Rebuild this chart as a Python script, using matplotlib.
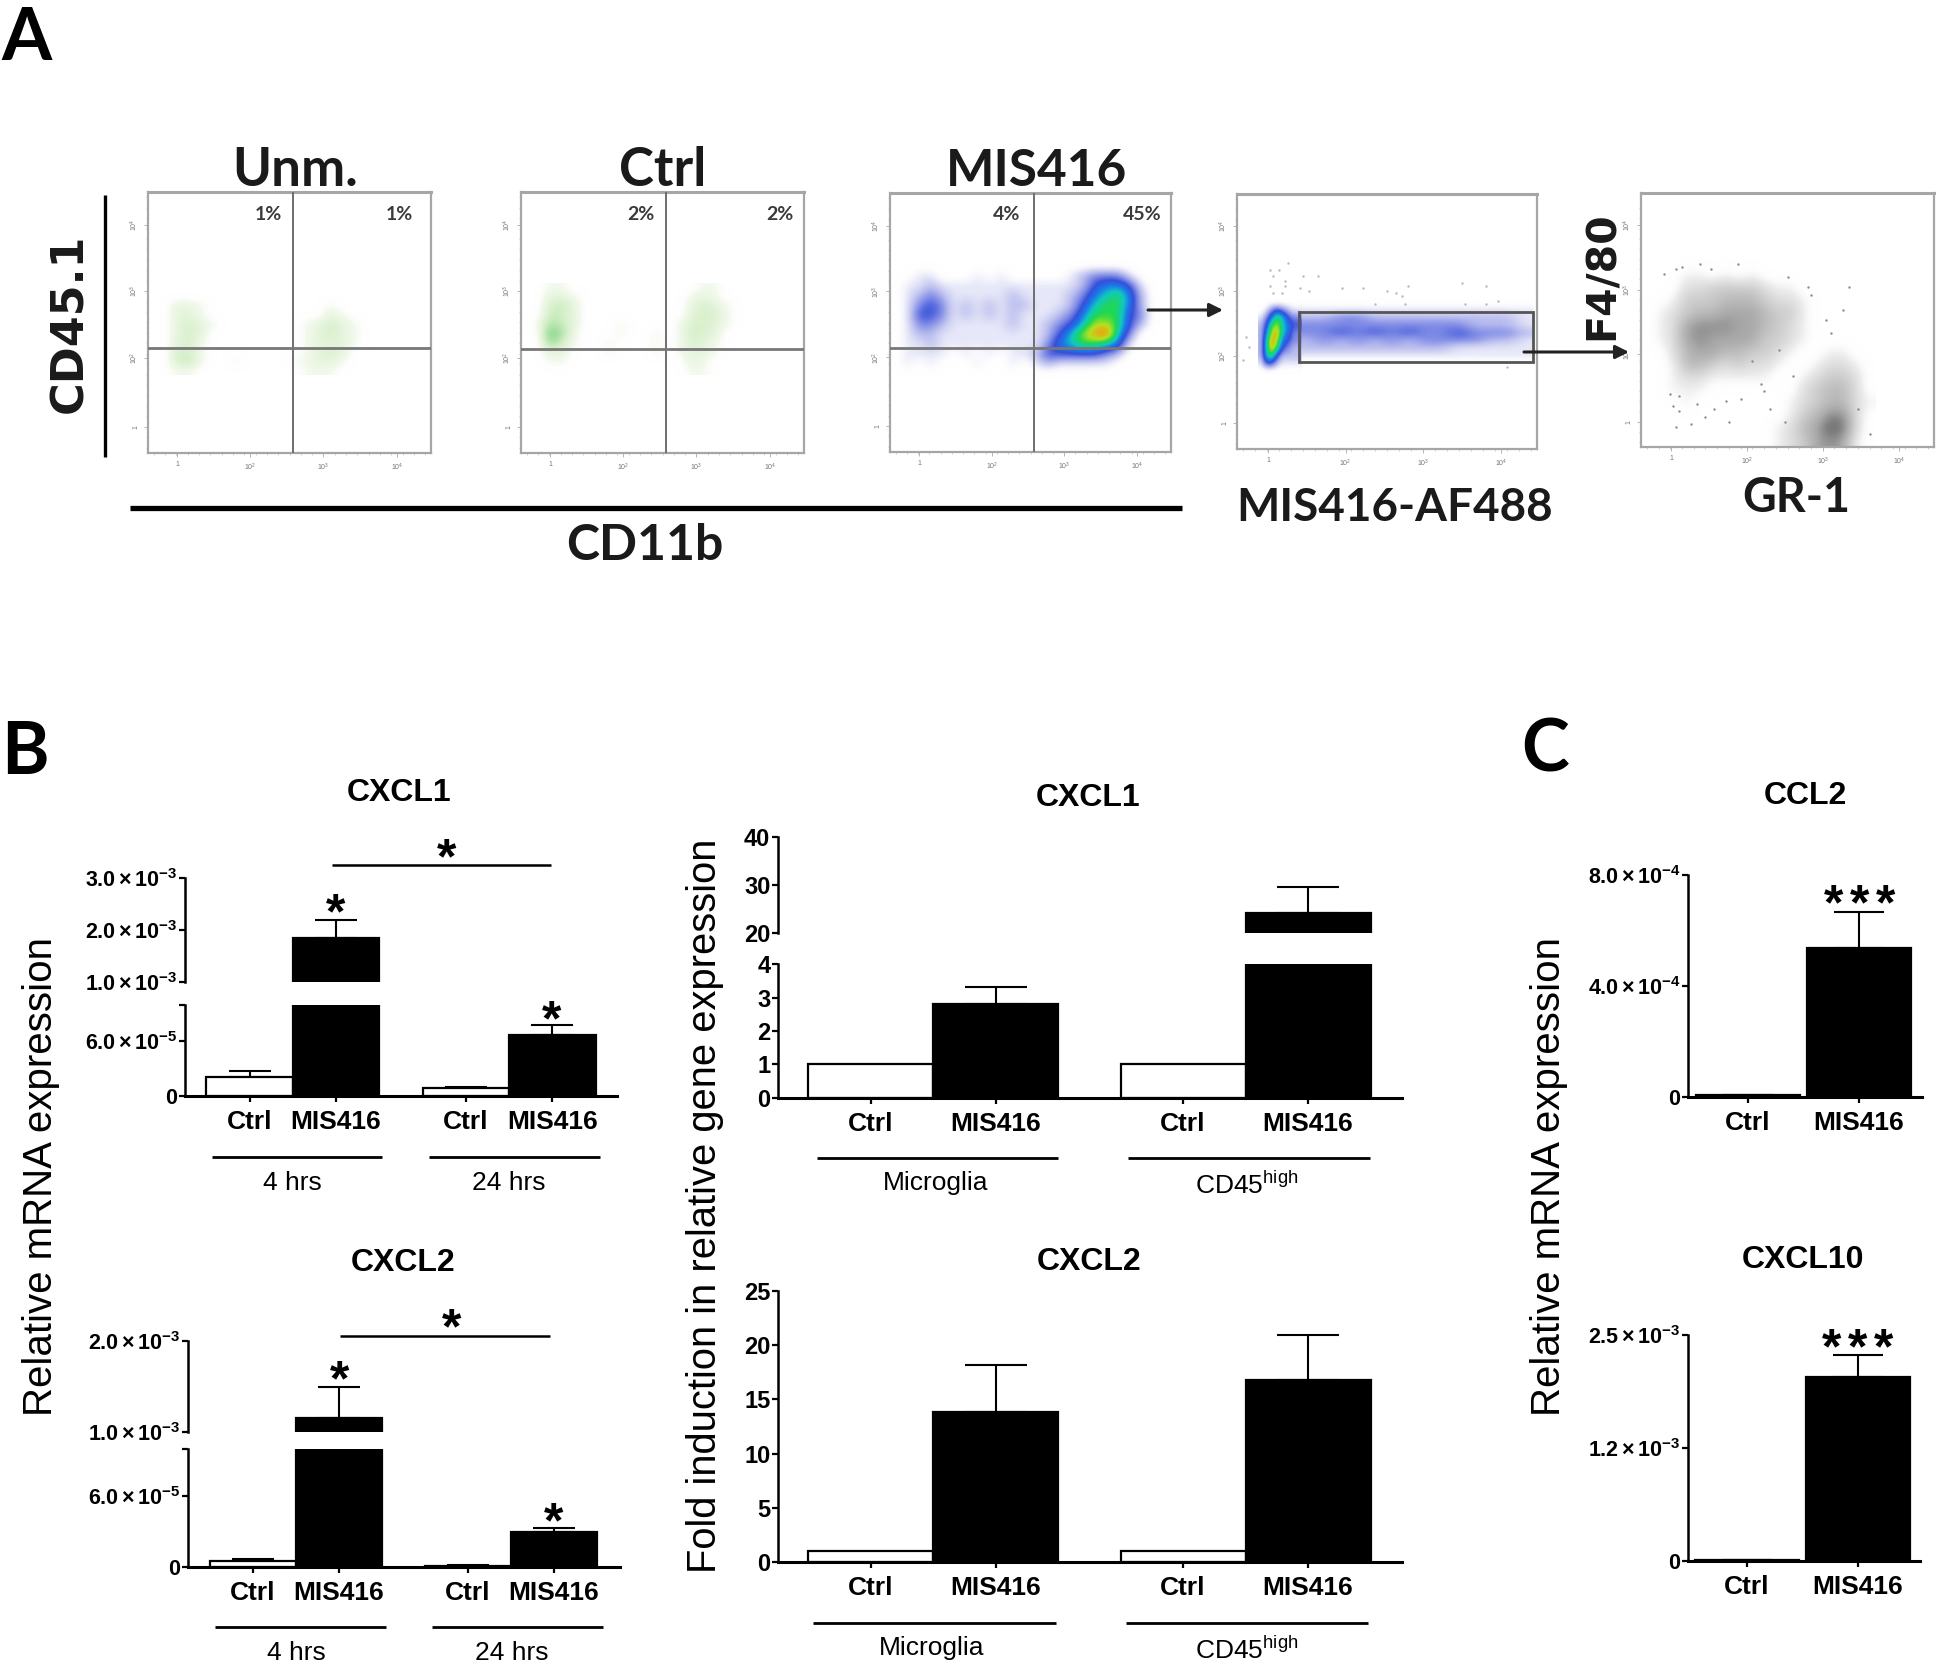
import numpy as np
import matplotlib
matplotlib.use("Agg")
import matplotlib.pyplot as plt
from matplotlib.colors import LinearSegmentedColormap
from matplotlib.lines import Line2D
from matplotlib.patches import FancyArrowPatch, Rectangle
from matplotlib.transforms import Affine2D

plt.rcParams.update({
    'font.family': ['Liberation Sans', 'DejaVu Sans'],
    'mathtext.fontset': 'custom',
    'mathtext.rm': 'Liberation Sans',
    'mathtext.bf': 'Liberation Sans:bold',
    'mathtext.it': 'Liberation Sans:italic',
})

W, H = 1946, 1667

# ---------- bar data ----------
groups = ['Ctrl', 'MIS416', 'Ctrl', 'MIS416']
groups2 = ['Ctrl', 'MIS416']
pos4 = [0, 1, 2.5, 3.5]
pos2 = [0, 1]

cxcl1_rel_vals = [2.07e-5, 1.85e-3, 0.85e-5, 6.74e-5]
cxcl1_rel_errs = [2.8e-5, 2.19e-3, 1.0e-5, 7.77e-5]
cxcl2_rel_vals = [0.51e-5, 1.16e-3, 0.1e-5, 2.94e-5]
cxcl2_rel_errs = [0.68e-5, 1.5e-3, 0.12e-5, 3.28e-5]
cxcl1_fold_vals = [1, 2.8, 1, 24.2]
cxcl1_fold_errs = [None, 3.32, None, 29.5]
cxcl2_fold_vals = [1, 13.8, 1, 16.8]
cxcl2_fold_errs = [None, 18.2, None, 20.9]
ccl2_vals = [0.7e-5, 5.37e-4]
ccl2_errs = [0.9e-5, 6.67e-4]
cxcl10_vals = [1e-5, 2.04e-3]
cxcl10_errs = [1.2e-5, 2.28e-3]

# ---------- flow density grids (read by eye, digit = local density, a = peak) ----------
unm_grid = [
    "000000000000000000000000",
    "000000000000000000000000",
    "002210000000000100000000",
    "002210000000000210000000",
    "002321000000012321000000",
    "002320000000012321000000",
    "002310000000012221000000",
    "003310000000012320000000",
    "003410010000112210000000",
    "001100000000011100000000",
]
ctrl_grid = [
    "001100000000000110000000",
    "002210000000001210000000",
    "003420000000002321000000",
    "004320000000002331000000",
    "015420001000013321000000",
    "008510001001013320000000",
    "006310010001013210000000",
    "002200010001012210000000",
    "001100000000002100000000",
    "000000000000001100000000",
]
mis_grid = [
    "000000000000000000000000",
    "001100010100000123331000",
    "011211111111111124554100",
    "012321111121111235675200",
    "013431212122111246775200",
    "014431212121112357774300",
    "013321111121123468874200",
    "012211111111124689a63000",
    "011211111111135677651000",
    "011110101011244444320000",
    "010100010010121111100000",
    "000000000000000000000000",
]
af488_peak_grid = [
    "00000000",
    "01343211",
    "13576433",
    "24786544",
    "25896533",
    "26985433",
    "26974322",
    "26742222",
    "14421111",
    "00000000",
]
af488_gate_grid = [
    "00000000000000",
    "11111111111111",
    "22332222222221",
    "33333333332221",
    "33434343343332",
    "23232323333221",
    "22222222211111",
    "11111111111111",
    "00000000000000",
]
af488_sparse_x = [11, 14, 17, 22, 27, 12, 16, 11, 16, 21, 24, 12, 15, 35, 42, 50, 53, 55, 57, 75, 83, 87, 76, 83, 46, 56, 2, 90, 3, 4]
af488_sparse_y = [30, 30, 27, 32, 32, 32, 34, 36, 36, 37, 38, 39, 39, 37, 37, 38, 39, 40, 36, 35, 36, 42, 43, 43, 43, 43, 65, 68, 56, 60]
gr1_grid = [
    "000000000000000000",
    "000110101000000000",
    "000223333211000000",
    "001333444322100000",
    "012344555433100000",
    "012566655432100000",
    "012565555332100000",
    "002455443321001100",
    "001443232210012210",
    "001221111100123320",
    "001110000000234420",
    "000100000001234421",
    "000000000001346620",
    "000000000012458720",
    "000000000012356510",
]
gr1_sparse_x = [8, 12, 14, 20, 24, 33, 50, 57, 58, 71, 69, 63, 65, 10, 13, 17, 22, 30, 12, 11, 13, 19, 25, 29, 34, 42, 44, 49, 74, 78, 52, 41, 38, 47]
gr1_sparse_y = [32, 30, 29, 28, 30, 28, 33, 37, 40, 37, 46, 50, 55, 79, 86, 91, 88, 90, 92, 84, 80, 83, 85, 82, 81, 78, 85, 90, 85, 95, 72, 75, 66, 62]

fig = plt.figure(figsize=(W / 100, H / 100), dpi=100, facecolor='white')
T = Affine2D().scale(1 / W, -1 / H).translate(0, 1) + fig.transFigure


def ftext(x, y, s, **kw):
    kw.setdefault('ha', 'center')
    kw.setdefault('va', 'center')
    return fig.text(x, y, s, transform=T, **kw)


def fline(xs, ys, lw=2.0, color='k'):
    fig.add_artist(Line2D(xs, ys, transform=T, color=color, lw=lw, solid_capstyle='butt'))


def star(x, y, size=36):
    fig.text(x, y + 0.46 * size * 100 / 72, '*', transform=T, ha='center', va='baseline',
             fontsize=size, fontweight='bold')


def px_axes(xl, xr, yt, yb):
    ax = fig.add_axes([xl / W, 1 - yb / H, (xr - xl) / W, (yb - yt) / H])
    ax.patch.set_alpha(0)
    return ax


def sci(m, e):
    return rf"$\mathbf{{{m}\times10^{{{e}}}}}$"


# ---------- flow panels ----------
def parse(rows):
    return np.array([[int(c, 16) for c in r] for r in rows], float)


cm_green = LinearSegmentedColormap.from_list('g', [(0, (1, 1, 1, 0)), (.1, '#f2f9ec'), (.3, '#d8f0cc'),
                                                   (.6, '#9adc98'), (1, '#28b048')])
cm_flow = LinearSegmentedColormap.from_list('f', [
    (0, (1, 1, 1, 0)), (.1, '#e6e7f8'), (.2, '#b8bcee'), (.3, '#7e8ae6'), (.4, '#3650da'),
    (.5, '#1c78e8'), (.6, '#10c8c0'), (.7, '#20d850'), (.8, '#b4e020'), (.9, '#f0a010'), (1, '#e03010')])
cm_gray = LinearSegmentedColormap.from_list('k', [(0, (1, 1, 1, 0)), (.12, '#ececec'), (.5, '#a8a8a8'),
                                                  (1, '#2a2a2a')])


def flow_axes(xl, xr, yt, yb, vline=None, hline=None):
    ax = px_axes(xl, xr, yt, yb)
    ax.set_xlim(0, 100)
    ax.set_ylim(100, 0)
    ax.patch.set_alpha(1)
    for s in ax.spines.values():
        s.set_color('#a6a6a6')
        s.set_linewidth(1.6)
    ax.spines['top'].set_linewidth(2.2)
    ax.set_xticks([10.4, 36.2, 62, 88], ['1', '$10^{2}$', '$10^{3}$', '$10^{4}$'])
    ax.set_yticks([12.6, 38, 63.5, 90], ['$10^{4}$', '$10^{3}$', '$10^{2}$', '1'], rotation=90, va='center')
    ax.set_xticks(np.arange(2, 100, 4), minor=True)
    ax.set_yticks(np.arange(2, 100, 4), minor=True)
    ax.tick_params(which='major', length=3, width=.6, color='#aaaaaa', labelsize=5, labelcolor='#777777', pad=3)
    ax.tick_params(which='minor', length=1.5, width=.5, color='#bbbbbb')
    if vline is not None:
        ax.axvline(vline, ymax=1, color='#6e6e6e', lw=1.4, zorder=5)
    if hline is not None:
        ax.axhline(hline, color='#777777', lw=2.0, zorder=5)
    return ax


def density(ax, grid, cmap, extent):
    ax.imshow(parse(grid), cmap=cmap, vmin=0, vmax=10, extent=extent, aspect='auto',
              interpolation='bicubic', interpolation_stage='data', origin='upper', zorder=2)
    ax.set_xlim(0, 100)
    ax.set_ylim(100, 0)


ax = flow_axes(148, 431, 192, 453, vline=51.2, hline=59.8)
density(ax, unm_grid, cm_green, (0, 100, 70, 35))
ax = flow_axes(521, 804, 192, 453, vline=51.2, hline=60.2)
density(ax, ctrl_grid, cm_green, (0, 100, 70, 35))
ax = flow_axes(890, 1171, 193, 452, vline=51.2, hline=60)
density(ax, mis_grid, cm_flow, (0, 100, 71.8, 26.2))

ax = flow_axes(1237, 1537, 194, 449)
density(ax, af488_gate_grid, cm_flow, (21, 99, 68, 41))
density(ax, af488_peak_grid, cm_flow, (7, 21.5, 71, 41))
ax.scatter(af488_sparse_x, af488_sparse_y, s=3, color='#b8b8c8', linewidths=0, zorder=3)
ax.add_patch(Rectangle((20.8, 46.2), 78, 19.6, fill=False, ec='#555555', lw=2.0, zorder=6))

ax = flow_axes(1641, 1934, 193, 447)
density(ax, gr1_grid, cm_gray, (0, 80, 100, 25))
ax.scatter(gr1_sparse_x, gr1_sparse_y, s=3, color='#8c8c8c', linewidths=0, zorder=3)

# flow labels
big = dict(family='Lato', fontweight='bold', color='#1a1a1a')
ftext(295, 171, 'Unm.', fontsize=38, **big)
ftext(663, 171, 'Ctrl', fontsize=38, **big)
ftext(1037, 171, 'MIS416', fontsize=37, **big)
ftext(645, 545, 'CD11b', fontsize=36, **big)
ftext(1395, 508, 'MIS416-AF488', fontsize=33, **big)
ftext(1796, 498, 'GR-1', fontsize=33.5, **big)
ftext(70, 323, 'CD45.1', fontsize=32, rotation=90, family='DejaVu Sans', fontweight='bold', color='#1a1a1a')
ftext(1603, 276, 'F4/80', fontsize=29.5, rotation=90, family='DejaVu Sans', fontweight='bold', color='#1a1a1a')
fline([105, 105], [195, 457], lw=2.4)
fline([130, 1182], [508, 508], lw=3.8)
pct = dict(family='Lato', fontweight='bold', fontsize=14, color='#3a3a3a')
for x, s in [(268, '1%'), (399, '1%'), (641, '2%'), (780, '2%'), (1007, '4%'), (1142, '45%')]:
    ftext(x, 215, s, **pct)
for a, b in [((1148, 310), (1223, 310)), ((1524, 352), (1629, 352))]:
    fig.add_artist(FancyArrowPatch(a, b, transform=T, arrowstyle='-|>', mutation_scale=20, lw=2.2,
                                   color='#222222', shrinkA=0, shrinkB=0, zorder=10))
for x, y, s in [(26, 39, 'A'), (25, 754, 'B'), (1545, 751, 'C')]:
    ftext(x, y, s, family='Lato', fontweight='bold', fontsize=52, color='black')


# ---------- bar panels ----------
def style(ax, xl, xr, c0, unit, pos, labels):
    ax.set_xlim((xl - c0) / unit, (xr - c0) / unit)
    for s in ('top', 'right'):
        ax.spines[s].set_visible(False)
    ax.spines['left'].set_linewidth(1.8)
    ax.spines['bottom'].set_linewidth(2.2)
    ax.tick_params(axis='y', length=4.5, width=1.6)
    ax.tick_params(axis='x', length=4, width=1.6, pad=6)
    ax.set_xticks(pos, labels, fontsize=19, fontweight='bold')


def bars(ax, pos, vals, errs, width, cap, lo=None, hi=None):
    for i, (x, v, e) in enumerate(zip(pos, vals, errs)):
        col = 'white' if i % 2 == 0 else 'black'
        if lo is None:
            ax.bar(x, v, width=width, color=col, edgecolor='k', linewidth=1.6, zorder=2)
        elif v > lo:
            ax.bar(x, v - lo, bottom=lo, width=width, color=col, edgecolor='k', linewidth=1.6, zorder=2)
        if e is not None and (lo is None or e > lo) and (hi is None or e < hi):
            ax.errorbar(x, v, yerr=[[0], [e - v]], color='k', elinewidth=1.5, capsize=cap, capthick=1.5, zorder=1)


def broken(xl, xr, c0, unit, y0, ybrk, yup0, yup1, lim_lo, lim_up, vals, errs, lo_ticks, lo_labels,
           up_ticks, up_labels, cap, tick_fs):
    low = px_axes(xl, xr, ybrk, y0)
    up = px_axes(xl, xr, yup1, yup0)
    style(low, xl, xr, c0, unit, pos4, groups)
    style(up, xl, xr, c0, unit, pos4, groups)
    low.set_ylim(*lim_lo)
    up.set_ylim(*lim_up)
    bars(low, pos4, vals, errs, 1.0, cap, hi=lim_lo[1])
    # bars continuing above the break
    bars(up, pos4, vals, errs, 1.0, cap, lo=lim_up[0])
    low.set_yticks(lo_ticks, lo_labels, fontsize=tick_fs, fontweight='bold')
    up.set_yticks(up_ticks, up_labels, fontsize=tick_fs, fontweight='bold')
    up.spines['bottom'].set_visible(False)
    up.tick_params(axis='x', bottom=False, labelbottom=False)
    for a in (low, up):
        a.tick_params(axis='y', pad=1)
    return low, up


# B left, CXCL1
broken(185, 617, 249.5, 86.5, 1096, 1005, 982.3, 877.7, (0, 1e-4), (1e-3, 3e-3),
       cxcl1_rel_vals, cxcl1_rel_errs, [0, 6e-5, 1e-4], ['0', sci('6.0', '-5'), ''],
       [1e-3, 2e-3, 3e-3], [sci('1.0', '-3'), sci('2.0', '-3'), sci('3.0', '-3')], 15, 15.5)
# B left, CXCL2
broken(188, 620, 253, 86, 1566.7, 1449, 1432.3, 1340.7, (0, 1e-4), (1e-3, 2e-3),
       cxcl2_rel_vals, cxcl2_rel_errs, [0, 6e-5, 1e-4], ['0', sci('6.0', '-5'), ''],
       [1e-3, 2e-3], [sci('1.0', '-3'), sci('2.0', '-3')], 15, 15.5)
# B middle, CXCL1
broken(778, 1402, 870.5, 125, 1097.7, 964.3, 932.7, 836.7, (0, 4), (20, 40),
       cxcl1_fold_vals, cxcl1_fold_errs, [0, 1, 2, 3, 4], ['0', '1', '2', '3', '4'],
       [20, 30, 40], ['20', '30', '40'], 22, 17)
# B middle, CXCL2
ax = px_axes(778, 1402, 1291, 1562)
style(ax, 778, 1402, 870.5, 125, pos4, groups)
ax.set_ylim(0, 25)
bars(ax, pos4, cxcl2_fold_vals, cxcl2_fold_errs, 1.0, 22)
ax.set_yticks([0, 5, 10, 15, 20, 25], ['0', '5', '10', '15', '20', '25'], fontsize=17, fontweight='bold')
ax.tick_params(axis='y', pad=1)
# C, CCL2
ax = px_axes(1688, 1922, 875, 1097)
style(ax, 1688, 1922, 1748, 111, pos2, groups2)
ax.set_ylim(0, 8e-4)
bars(ax, pos2, ccl2_vals, ccl2_errs, 0.93, 18)
ax.set_yticks([0, 4e-4, 8e-4], ['0', sci('4.0', '-4'), sci('8.0', '-4')], fontsize=15.5, fontweight='bold')
ax.tick_params(axis='y', pad=1)
# C, CXCL10
ax = px_axes(1688, 1920, 1335, 1560.7)
style(ax, 1688, 1920, 1747, 111, pos2, groups2)
ax.set_ylim(0, 2.5e-3)
bars(ax, pos2, cxcl10_vals, cxcl10_errs, 0.93, 18)
ax.set_yticks([0, 1.25e-3, 2.5e-3], ['0', sci('1.2', '-3'), sci('2.5', '-3')], fontsize=15.5, fontweight='bold')
ax.tick_params(axis='y', pad=1)

# titles
ttl = dict(fontsize=23, fontweight='bold')
ftext(399, 793, 'CXCL1', **ttl)
ftext(403, 1263, 'CXCL2', **ttl)
ftext(1088, 798, 'CXCL1', **ttl)
ftext(1089, 1262, 'CXCL2', **ttl)
ftext(1805, 796, 'CCL2', **ttl)
ftext(1803, 1260, 'CXCL10', **ttl)

# y labels
ftext(41, 1176, 'Relative mRNA expression', rotation=90, fontsize=29)
ftext(705, 1206, 'Fold induction in relative gene expression', rotation=90, fontsize=28.7)
ftext(1549, 1176, 'Relative mRNA expression', rotation=90, fontsize=29)

# group lines and labels
fline([212, 382], [1156.7, 1156.7]); fline([429, 600], [1156.7, 1156.7])
fline([215, 385.5], [1627, 1627]); fline([432, 603], [1627, 1627])
fline([817, 1058], [1157.7, 1157.7]); fline([1128, 1370], [1157.7, 1157.7])
fline([813, 1055.5], [1622.7, 1622.7]); fline([1126, 1368], [1622.7, 1622.7])
sub = dict(fontsize=19)
ftext(292, 1183, '4 hrs', **sub); ftext(509, 1183, '24 hrs', **sub)
ftext(296, 1653, '4 hrs', **sub); ftext(512, 1653, '24 hrs', **sub)
ftext(936, 1183, 'Microglia', **sub); ftext(1247, 1185, r'CD45$^{\mathrm{high}}$', **sub)
ftext(932, 1648, 'Microglia', **sub); ftext(1247, 1650, r'CD45$^{\mathrm{high}}$', **sub)

# significance
fline([332, 551], [865.3, 865.3], lw=1.8)
fline([340, 550], [1336, 1336], lw=1.8)
star(447, 850); star(336, 905); star(552, 1012)
star(452, 1320); star(340, 1372); star(554, 1514)
for dx in (-26, 0, 26):
    star(1860 + dx, 896)
    star(1858 + dx, 1340)

fig.savefig('out.png', dpi=100, facecolor='white')
